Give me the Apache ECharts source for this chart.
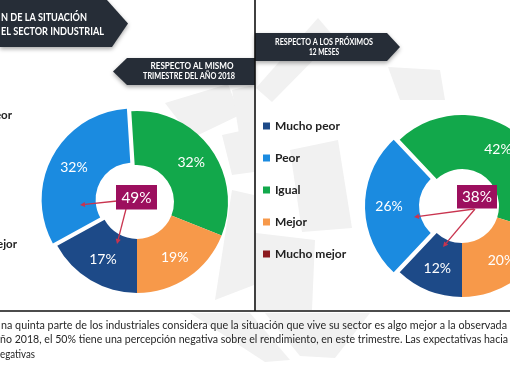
<!DOCTYPE html>
<html><head><meta charset="utf-8">
<script src="https://cdn.jsdelivr.net/npm/echarts@6/dist/echarts.min.js"></script>
<style>html,body{margin:0;padding:0;background:#fff;overflow:hidden}#c{width:510px;height:382px;}</style>
</head><body><div id="c"></div>
<script>
// ---- data ----
const categories = ['Mucho peor', 'Peor', 'Igual', 'Mejor', 'Mucho mejor'];
const valuesTrimestre = [17, 32, 32, 19, 0];   // respecto al mismo trimestre del año 2018
const valuesProximos = [12, 26, 42, 20, 0];    // respecto a los próximos 12 meses
const explodedCategory = 'Peor';
const negativeCategories = ['Mucho peor', 'Peor'];
const titleLines = ['N DE LA SITUACIÓN', 'EL SECTOR INDUSTRIAL'];
const subtitleLeft = ['RESPECTO AL MISMO', 'TRIMESTRE DEL AÑO 2018'];
const subtitleRight = ['RESPECTO A LOS PRÓXIMOS', '12 MESES'];
const leftLegendFragments = ['eor', 'ejor'];
const bodyLines = [
  'na quinta parte de los industriales considera que la situación que vive su sector es algo mejor a la observada',
  'ño 2018, el 50% tiene una percepción negativa sobre el rendimiento, en este trimestre. Las expectativas hacia',
  'egativas'
];

// ---- styles ----
const colors = ['#1d4a88', '#1b8be0', '#12a84b', '#f7994a', '#8c1a1f'];
const banner = '#262d37';
const arrowColor = '#c9344f';
const boxColor = '#9c0f5e';

const ctx = document.createElement('canvas').getContext('2d');
function measure(s, font) { ctx.font = font; return ctx.measureText(s).width; }
function txt(s, x, y, font, fill, align, targetW) {
  const sx = targetW ? targetW / measure(s, font) : 1;
  return { type: 'text', x: x, y: y, scaleX: sx, z: 120,
    style: { text: s, font: font, fill: fill, textAlign: align, align: align,
             textVerticalAlign: 'middle', verticalAlign: 'middle' } };
}
function arrow(x1, y1, x2, y2) {
  const a = Math.atan2(y2 - y1, x2 - x1), L = 5, W = 2.6;
  const bx = x2 - L * Math.cos(a), by = y2 - L * Math.sin(a);
  return [
    { type: 'line', z: 110, shape: { x1, y1, x2: bx, y2: by }, style: { stroke: arrowColor, lineWidth: 1.3 } },
    { type: 'polygon', z: 110, shape: { points: [[x2, y2], [bx - W * Math.sin(a), by + W * Math.cos(a)], [bx + W * Math.sin(a), by - W * Math.cos(a)]] },
      style: { fill: arrowColor } }
  ];
}
function sumNeg(vals) { return categories.reduce((s, c, i) => s + (negativeCategories.includes(c) ? vals[i] : 0), 0); }

const water = '#f1f1f1';
const waterPolys = [
  [[165,103],[228,84],[240,115],[192,138]],
  [[232,90],[254,85],[254,140],[240,140]],
  [[222,135],[254,128],[254,172],[232,175]],
  [[232,190],[254,195],[254,285],[215,300]],
  [[256,88],[318,18],[335,38],[272,102]],
  [[388,67],[440,70],[445,100],[400,100]],
  [[256,233],[315,240],[312,310],[256,310]],
  [[190,313],[250,313],[290,360],[265,362]],
  [[265,313],[370,313],[335,358],[300,356]],
  [[290,150],[338,140],[352,228],[302,232]]
];

const graphic = [];
waterPolys.forEach(p => graphic.push({ type: 'polygon', z: -10, shape: { points: p }, style: { fill: water } }));
// banners
graphic.push({ type: 'polygon', z: 100, shape: { points: [[0,0],[107,0],[128,23.5],[112,47],[0,47]] },
  style: { fill: banner, shadowBlur: 4, shadowColor: 'rgba(0,0,0,0.35)', shadowOffsetY: 2 } });
graphic.push({ type: 'polygon', z: 100, shape: { points: [[113,71.5],[127,58],[255,58],[255,85],[127,85]] },
  style: { fill: banner, shadowBlur: 4, shadowColor: 'rgba(0,0,0,0.35)', shadowOffsetY: 2 } });
graphic.push({ type: 'polygon', z: 100, shape: { points: [[255,33],[387,33],[400,47],[387,61],[255,61]] },
  style: { fill: banner, shadowBlur: 4, shadowColor: 'rgba(0,0,0,0.35)', shadowOffsetY: 2 } });
graphic.push(txt(titleLines[0], 1, 17, 'bold 11.5px Lato', '#fff', 'left', 86));
graphic.push(txt(titleLines[1], 1, 31, 'bold 11.5px Lato', '#fff', 'left', 103));
graphic.push(txt(subtitleLeft[0], 192, 66, 'bold 9px Lato', '#fff', 'center', 83));
graphic.push(txt(subtitleLeft[1], 189, 76.5, 'bold 9px Lato', '#fff', 'center', 92));
graphic.push(txt(subtitleRight[0], 324, 42, 'bold 9px Lato', '#fff', 'center', 98));
graphic.push(txt(subtitleRight[1], 324, 52, 'bold 9px Lato', '#fff', 'center', 30));
// separators
graphic.push({ type: 'line', z: 105, shape: { x1: 255, y1: 0, x2: 255, y2: 311 }, style: { stroke: '#111', lineWidth: 1.6 } });
graphic.push({ type: 'line', z: 105, shape: { x1: 0, y1: 311, x2: 510, y2: 311 }, style: { stroke: '#111', lineWidth: 1.6 } });
// cropped left legend
graphic.push(txt(leftLegendFragments[0], 12, 115, 'bold 11.5px Lato', '#222', 'right'));
graphic.push(txt(leftLegendFragments[1], 17, 244, 'bold 11.5px Lato', '#222', 'right'));
// body text
graphic.push(txt(bodyLines[0], 1, 325, '11.5px Lato', '#262626', 'left', 506));
graphic.push(txt(bodyLines[1], 0, 339.5, '11.5px Lato', '#262626', 'left', 508));
graphic.push(txt(bodyLines[2], 0, 354, '11.5px Lato', '#262626', 'left', 35));
// arrows + center boxes
arrow(117, 201, 80, 205).forEach(e => graphic.push(e));
arrow(126, 209, 117, 244).forEach(e => graphic.push(e));
arrow(474, 209, 414, 217).forEach(e => graphic.push(e));
arrow(475, 209, 443, 247).forEach(e => graphic.push(e));
graphic.push({ type: 'rect', z: 115, shape: { x: 116, y: 185, width: 41, height: 24.5 }, style: { fill: boxColor } });
graphic.push({ type: 'rect', z: 115, shape: { x: 457, y: 185, width: 40, height: 23.5 }, style: { fill: boxColor } });
graphic.push(txt(sumNeg(valuesTrimestre) + '%', 136.5, 197.5, '16px Lato', '#fff', 'center', 30));
graphic.push(txt(sumNeg(valuesProximos) + '%', 477, 197, '16px Lato', '#fff', 'center', 30));

function pieSeries(vals, center, offset) {
  return {
    type: 'pie', center: center, radius: [37, 91], startAngle: 270, clockwise: true,
    selectedMode: 'single', selectedOffset: offset, avoidLabelOverlap: false, silent: true,
    label: { show: true, position: 'inside', color: '#fff', fontFamily: 'Lato', fontSize: 14,
             formatter: p => p.value ? p.value + '%' : '' },
    labelLine: { show: false },
    emphasis: { disabled: true },
    data: categories.map((n, i) => ({ name: n, value: vals[i], selected: n === explodedCategory,
      itemStyle: { color: colors[i] } }))
  };
}

const chart = echarts.init(document.getElementById('c'), null, { renderer: 'canvas' });
chart.setOption({
  animation: false,
  backgroundColor: '#fff',
  color: colors,
  legend: {
    data: categories, orient: 'vertical', left: 258, top: 114, itemWidth: 7, itemHeight: 7, itemGap: 18,
    icon: 'rect', selectedMode: false,
    textStyle: { fontFamily: 'Lato', fontWeight: 'bold', fontSize: 12, color: '#222', lineHeight: 14 }
  },
  series: [pieSeries(valuesTrimestre, [137, 202], 5), pieSeries(valuesProximos, [462, 206], 6)],
  graphic: graphic
});
</script></body></html>
